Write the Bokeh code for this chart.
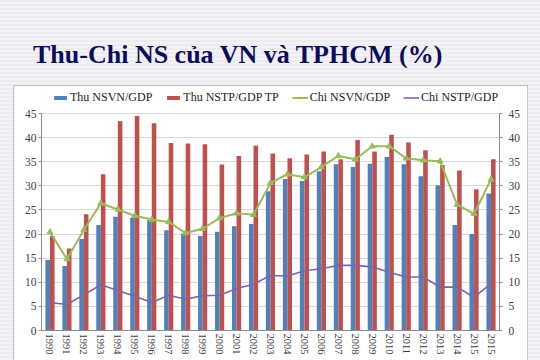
from bokeh.plotting import figure
from bokeh.layouts import column
from bokeh.models import (ColumnDataSource, FactorRange, Range1d, LinearAxis,
                          Legend, LegendItem, FixedTicker, Div)
from bokeh.transform import dodge
from bokeh.embed import file_html
from bokeh.resources import INLINE

years = ["1990", "1991", "1992", "1993", "1994", "1995", "1996", "1997", "1998", "1999",
         "2000", "2001", "2002", "2003", "2004", "2005", "2006", "2007", "2008", "2009",
         "2010", "2011", "2012", "2013", "2014", "2015", "2015 "]
thu_nsvn = [14.6, 13.4, 19.0, 21.9, 23.6, 23.4, 22.9, 20.8, 20.1, 19.6, 20.5, 21.6, 22.1, 28.9,
            31.4, 31.0, 33.0, 34.5, 33.9, 34.6, 36.0, 34.5, 32.0, 30.1, 21.9, 20.0, 28.4]
thu_nstp = [19.6, 17.0, 24.1, 32.4, 43.4, 44.5, 43.0, 38.9, 38.8, 38.6, 34.4, 36.2, 38.3, 36.7,
            35.7, 36.5, 37.1, 35.5, 39.5, 37.1, 40.6, 39.0, 37.4, 34.3, 33.2, 29.3, 35.5]
chi_nsvn = [20.4, 14.8, 20.9, 26.4, 25.1, 23.8, 23.0, 22.5, 20.2, 21.1, 23.3, 24.3, 24.0, 30.6,
            32.4, 31.8, 33.9, 36.2, 35.5, 38.2, 38.2, 35.7, 35.3, 35.1, 26.1, 24.2, 31.3]
chi_nstp = [5.8, 5.4, 7.4, 9.5, 8.3, 7.1, 5.8, 7.3, 6.5, 7.2, 7.3, 8.7, 9.6, 11.4,
            11.3, 12.4, 12.8, 13.5, 13.5, 13.2, 12.1, 11.1, 11.1, 9.0, 9.0, 6.9, 9.7]
y_ticks = [0, 5, 10, 15, 20, 25, 30, 35, 40, 45]

title_text = "Thu-Chi NS của VN và TPHCM (%)"
series_names = ["Thu NSVN/GDP", "Thu NSTP/GDP TP", "Chi NSVN/GDP", "Chi NSTP/GDP"]

src = ColumnDataSource(dict(year=years, thu_nsvn=thu_nsvn, thu_nstp=thu_nstp,
                            chi_nsvn=chi_nsvn, chi_nstp=chi_nstp))

FONT = "Liberation Serif"

# figure geometry (chart box): 513 x 274, placed at page (14, 86)
FIG_H = 274
TOP_PAD = 27          # space above the 45 gridline (legend lives there)
BOTTOM = 30           # x-axis labels
frame_h = FIG_H - BOTTOM
y_top = 45 + TOP_PAD * 45 / (frame_h - TOP_PAD)

p = figure(width=513, height=FIG_H, x_range=FactorRange(*years), y_range=Range1d(0, y_top),
           output_backend="svg", toolbar_location=None,
           min_border_left=27, min_border_right=28, min_border_top=0, min_border_bottom=BOTTOM,
           border_fill_color="white", background_fill_color="white", outline_line_color=None,
           margin=(0, 13, 0, 14), styles={"outline": "1px solid #c4c4c4"})

p.xgrid.grid_line_color = None
p.ygrid.grid_line_color = "#d9d9d9"
p.ygrid.ticker = FixedTicker(ticks=y_ticks)

xa = p.xaxis[0]
xa.axis_line_color = "#8c8c8c"
xa.major_tick_line_color = None
xa.major_tick_out = 0
xa.major_tick_in = 0
xa.major_label_orientation = "vertical"
xa.major_label_text_font = FONT
xa.major_label_text_font_size = "10.5px"
xa.major_label_text_color = "#404040"
xa.major_label_standoff = 3

p.yaxis.ticker = FixedTicker(ticks=y_ticks)
ra = LinearAxis(ticker=FixedTicker(ticks=y_ticks))
p.add_layout(ra, "right")
for ax, so in ((p.yaxis[0], 2), (ra, 6)):
    ax.bounds = (0, 45)
    ax.axis_line_color = "#8c8c8c"
    ax.major_tick_line_color = "#8c8c8c"
    ax.major_tick_out = 3
    ax.major_tick_in = 0
    ax.minor_tick_line_color = None
    ax.major_label_text_font = FONT
    ax.major_label_text_font_size = "11.5px"
    ax.major_label_text_color = "#404040"
    ax.major_label_standoff = so

b1 = p.vbar(x=dodge("year", -0.135, range=p.x_range), top="thu_nsvn", width=0.27, source=src,
            fill_color="#4f81bd", line_color=None)
b2 = p.vbar(x=dodge("year", 0.135, range=p.x_range), top="thu_nstp", width=0.27, source=src,
            fill_color="#c0504d", line_color=None)
l1 = p.line(x="year", y="chi_nsvn", source=src, line_color="#9bbb59", line_width=2)
s1 = p.scatter(x="year", y="chi_nsvn", source=src, marker="triangle", size=6,
               fill_color="#9bbb59", line_color="#9bbb59")
l2 = p.line(x="year", y="chi_nstp", source=src, line_color="#8064a2", line_width=1.6)

legend = Legend(items=[LegendItem(label=series_names[0], renderers=[b1]),
                       LegendItem(label=series_names[1], renderers=[b2]),
                       LegendItem(label=series_names[2], renderers=[l1, s1]),
                       LegendItem(label=series_names[3], renderers=[l2])],
                orientation="horizontal", location=(11, frame_h - 19),
                label_text_font=FONT, label_text_font_size="12px", label_text_color="#222222",
                label_height=14, glyph_width=16, glyph_height=5, label_standoff=2, spacing=13,
                padding=0, margin=0, border_line_color=None, background_fill_alpha=0)
p.add_layout(legend)

title = Div(text=title_text, width=507, height=47, margin=(39, 0, 0, 33),
            styles={"font-family": FONT, "font-weight": "bold", "font-size": "26px",
                    "line-height": "32px", "color": "#0c0c5c", "white-space": "nowrap"})

page = column(title, p, spacing=0,
              styles={"background": "repeating-linear-gradient(180deg, #ececf0 0px, #ececf0 2px, #f3f3f6 2px, #f3f3f6 4px)"})

open("out.html", "w").write(file_html(page, INLINE))
